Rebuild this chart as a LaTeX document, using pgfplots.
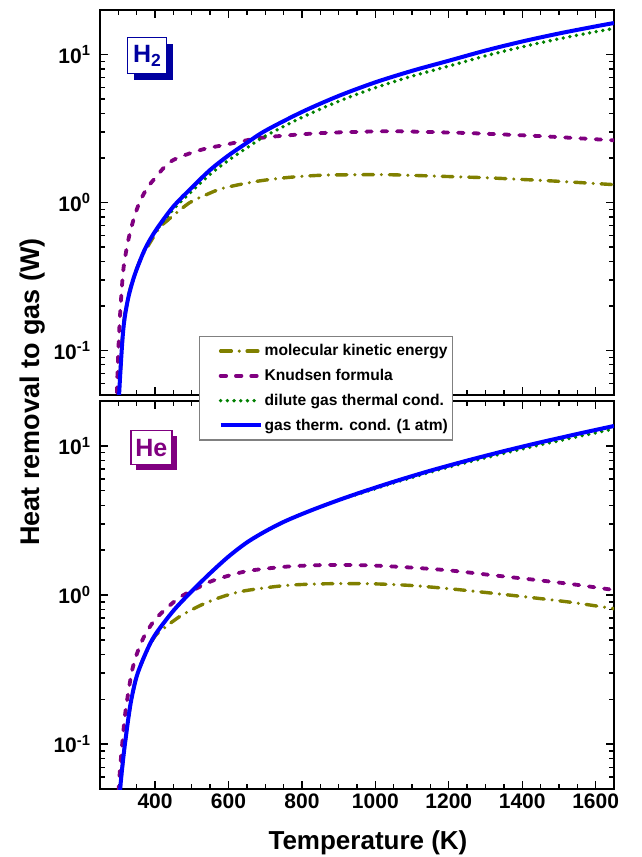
\documentclass[border=0pt]{standalone}
\usepackage{fontspec}
\setmainfont{Liberation Sans}
\usepackage{pgfplots}
\pgfplotsset{compat=1.18}

\definecolor{olivec}{RGB}{128,128,0}
\definecolor{purplec}{RGB}{128,0,128}
\definecolor{greenc}{RGB}{0,128,0}
\definecolor{bluec}{RGB}{0,0,255}
\definecolor{navyc}{RGB}{0,0,160}

\pgfplotsset{
  gaspanel/.style={
    scale only axis, width=514pt,
    xmin=250, xmax=1650,
    ymin=0.05, ymax=20,
    xtick={400,600,800,1000,1200,1400,1600},
    minor xtick={250,300,...,1650},
    ytick={0.1,1,10},
    minor ytick={0.05,0.06,0.07,0.08,0.09,0.2,0.3,0.4,0.5,0.6,0.7,0.8,0.9,2,3,4,5,6,7,8,9,20},
    yticklabels={10\textsuperscript{-1},10\textsuperscript{0},10\textsuperscript{1}},
    tick align=inside, tick pos=both,
    major tick length=8pt, minor tick length=5pt,
    every tick/.style={black, line width=1.4pt},
    axis line style={line width=1.8pt},
    ticklabel style={font=\bfseries\fontsize{21}{21}\selectfont},
    yticklabel style={xshift=-6pt},
    xticklabel style={yshift=-1pt},
  },
  kin/.style={olivec, line width=3.4pt, line cap=round, dash pattern=on 10.7pt off 7.9pt on 0pt off 7.9pt},
  knud/.style={purplec, line width=3.8pt, line cap=round, dash pattern=on 5.5pt off 9.8pt},
  dil/.style={greenc, line width=3.8pt, line cap=round, dash pattern=on 0pt off 6.7pt},
  atm/.style={bluec, line width=4pt},
}

\begin{document}
\begin{tikzpicture}
\useasboundingbox (-100pt,-68pt) rectangle (541pt,789pt);

% ---------------- He panel ----------------
\begin{semilogyaxis}[gaspanel, height=388pt, at={(0pt,0pt)}, anchor=south west,
  xticklabels={400,600,800,1000,1200,1400,1600}]
\addplot[kin, smooth] coordinates {
 (297,0.02) (305,0.05) (312,0.075) (319,0.105) (333,0.185) (350,0.285) (375,0.41)
 (400,0.53) (425,0.60) (450,0.67) (480,0.75) (536,0.88) (592,0.99)
 (647,1.07) (759,1.16) (870,1.19) (982,1.19) (1093,1.16) (1204,1.10)
 (1316,1.03) (1427,0.96) (1538,0.89) (1650,0.81)};
\addplot[knud, smooth] coordinates {
 (299,0.03) (301,0.05) (306,0.075) (313,0.117) (320,0.17) (336,0.30) (350,0.40)
 (369,0.52) (395,0.66) (425,0.79) (469,0.97) (514,1.11) (558,1.25) (647,1.44)
 (759,1.55) (870,1.59) (982,1.58) (1093,1.53) (1204,1.46) (1316,1.36)
 (1427,1.27) (1538,1.18) (1650,1.08)};
\addplot[dil, smooth] coordinates {
 (300,0.03) (305,0.05) (312,0.075) (319,0.105) (333,0.185) (350,0.285) (375,0.41)
 (400,0.54) (450,0.785) (500,1.06) (550,1.40) (600,1.81) (650,2.25) (700,2.67)
 (750,3.09) (800,3.49) (850,3.90) (900,4.33) (950,4.73) (1000,5.17) (1050,5.65)
 (1100,6.14) (1150,6.67) (1200,7.20) (1250,7.76) (1300,8.32) (1350,8.92)
 (1400,9.53) (1450,10.18) (1500,10.82) (1550,11.52) (1600,12.23) (1650,12.99)};
\addplot[atm, smooth] coordinates {
 (300,0.03) (305,0.05) (312,0.075) (319,0.105) (333,0.185) (350,0.285) (375,0.41)
 (400,0.54) (450,0.785) (500,1.06) (550,1.40) (600,1.81) (650,2.25) (700,2.67)
 (750,3.09) (800,3.49) (850,3.90) (900,4.33) (950,4.78) (1000,5.25) (1050,5.75)
 (1100,6.27) (1150,6.82) (1200,7.38) (1250,7.97) (1300,8.58) (1350,9.22)
 (1400,9.88) (1450,10.57) (1500,11.27) (1550,12.02) (1600,12.79) (1650,13.6)};
\node[anchor=north west, fill=purplec, minimum width=41pt, minimum height=34pt, inner sep=0pt]
  at ([shift={(6pt,-6pt)}]rel axis cs:0.0584,0.9253) {};
\node[anchor=north west, fill=white, draw=purplec, line width=1.5pt, text=purplec,
  minimum width=41pt, minimum height=34pt, inner sep=0pt,
  font=\bfseries\fontsize{25}{25}\selectfont]
  at (rel axis cs:0.0584,0.9253) {He};
\end{semilogyaxis}

% ---------------- H2 panel ----------------
\begin{semilogyaxis}[gaspanel, height=385pt, at={(0pt,394pt)}, anchor=south west,
  xticklabels={},
  legend cell align=left,
  legend image code/.code={\path (0pt,0pt); \draw[#1] (16pt,0pt) -- (56pt,0pt);},
  legend style={at={(0.1926,0.1532)}, anchor=north west, fill=white,
    draw=gray, line width=1.3pt,
    font=\bfseries\fontsize{15.6}{15.6}\selectfont,
    row sep=8pt, inner xsep=3pt, inner ysep=6pt}]
\addplot[kin, smooth] coordinates {
 (297,0.02) (302,0.05) (313,0.14) (325,0.22) (341,0.31) (360,0.41) (377,0.49)
 (404,0.63) (420,0.71) (432,0.75) (450,0.82) (495,1.0) (540,1.13) (586,1.25)
 (677,1.39) (767,1.48) (858,1.53) (949,1.54) (1040,1.54) (1190,1.5)
 (1300,1.47) (1403,1.43) (1500,1.39) (1650,1.32)};
\addlegendentry{molecular kinetic energy}
\addplot[knud, smooth] coordinates {
 (294.5,0.02) (296,0.05) (300,0.1) (305,0.18) (313,0.34) (322,0.48) (332,0.63)
 (345,0.82) (359,1.02) (380,1.27) (404,1.5) (425,1.73) (450,1.94) (495,2.15)
 (540,2.32) (586,2.44) (677,2.71) (767,2.85) (858,2.95) (949,3.0) (1050,3.03)
 (1203,2.97) (1294,2.92) (1448,2.81) (1550,2.72) (1650,2.63)};
\addlegendentry{Knudsen formula}
\addplot[dil, smooth] coordinates {
 (296,0.02) (302,0.05) (313,0.135) (325,0.215) (341,0.305) (360,0.41) (377,0.51)
 (404,0.65) (450,0.90) (500,1.19) (550,1.55) (600,1.93) (650,2.34) (700,2.81)
 (800,3.76) (900,4.83) (1000,5.97) (1100,7.14) (1200,8.35) (1300,9.79)
 (1400,11.27) (1500,12.76) (1600,14.26) (1650,15.0)};
\addlegendentry{dilute gas thermal cond.}
\addplot[atm, smooth] coordinates {
 (296,0.02) (302,0.05) (313,0.135) (325,0.215) (341,0.305) (360,0.41) (377,0.51)
 (404,0.66) (450,0.94) (500,1.26) (550,1.66) (600,2.08) (650,2.53) (700,3.05)
 (800,4.09) (900,5.25) (1000,6.49) (1100,7.76) (1200,9.08) (1300,10.64)
 (1400,12.25) (1500,13.87) (1600,15.5) (1650,16.33)};
\addlegendentry{gas therm. cond. (1 atm)}
\node[anchor=north west, fill=navyc, minimum width=39pt, minimum height=36pt, inner sep=0pt]
  at ([shift={(6.5pt,-6.5pt)}]rel axis cs:0.0525,0.9299) {};
\node[anchor=north west, fill=white, draw=navyc, line width=1.5pt, text=navyc,
  minimum width=39pt, minimum height=36pt, inner sep=0pt,
  font=\bfseries\fontsize{25}{25}\selectfont]
  at (rel axis cs:0.0525,0.9299) {H\textsubscript{2}};
\end{semilogyaxis}

% axis titles shared by both panels
\node[rotate=90, anchor=base, font=\bfseries\fontsize{27}{27}\selectfont] at (-60pt,397pt) {Heat removal to gas (W)};
\node[anchor=base, font=\bfseries\fontsize{26}{26}\selectfont] at (268pt,-60pt) {Temperature (K)};
\end{tikzpicture}
\end{document}
